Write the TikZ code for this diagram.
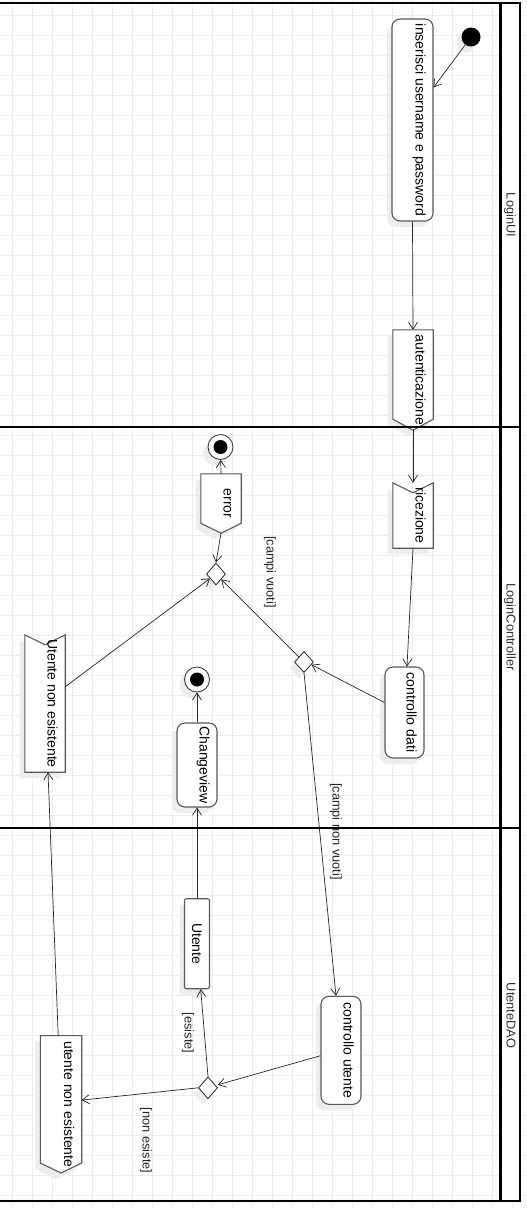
\documentclass[tikz,border=0pt]{standalone}
\usepackage{fontspec}
\setmainfont{Liberation Sans}
\usetikzlibrary{shapes.geometric,arrows.meta,calc,shadows}
\pgfdeclarelayer{gridlayer}
\pgfdeclarelayer{shapelayer}
\pgfsetlayers{gridlayer,shapelayer,main}
\newcommand\mynfont{\fontsize{14}{16}\selectfont}
\newcommand\mygfont{\fontsize{12.8}{15}\selectfont}
\newcommand\rtext[2][6pt]{\rotatebox{-90}{\raisebox{#1}[10pt][3pt]{#2}}}
\newcommand\ltext[1]{\rotatebox{-90}{\raisebox{0pt}[9pt][3pt]{#1}}}
\tikzset{
  gridline/.style={draw=black!7, line width=0.9pt},
  lane/.style={draw=black, line width=2.3pt},
  shd/.style={drop shadow={shadow xshift=-5pt,shadow yshift=-6pt,fill=black!7,opacity=1}},
  actbox/.style={draw=black!65, line width=1.1pt, fill=white, rounded corners=8pt, inner sep=0pt, shd, font=\mynfont},
  utbox/.style={draw=black!65, line width=1.1pt, fill=white, rounded corners=2pt, inner sep=0pt, shd, font=\mynfont},
  txt/.style={inner sep=0pt, font=\mynfont},
  sigshape/.style={draw=black!65, line width=1.1pt, fill=white, shd},
  flow/.style={draw=black!85, line width=0.7pt, -{Straight Barb[length=7pt,width=9pt]}},
  guard/.style={inner sep=0pt, font=\mygfont, text=black!85},
  lanelabel/.style={inner sep=0pt, font=\mygfont, text=black!80},
  decnode/.style={diamond, draw=black!85, line width=0.8pt, fill=white, minimum width=19pt, minimum height=21pt, inner sep=0pt, shd},
  initnode/.style={circle, fill=black, minimum size=19pt, inner sep=0pt, shd},
  finalnode/.style={circle, draw=black!75, line width=0.9pt, fill=white, minimum size=25pt, inner sep=0pt, shd,
    path picture={\fill[black] (path picture bounding box.center) circle[radius=7pt];}}
}
\begin{document}
\begin{tikzpicture}[x=1pt,y=-1pt]
\useasboundingbox (0,0) rectangle (527,1208);
\begin{pgfonlayer}{gridlayer}
  \fill[white] (0,0) rectangle (527,1208);
  \foreach \k in {0,...,25} \draw[gridline] (12.5+20*\k,0) -- (12.5+20*\k,1208);
  \foreach \k in {0,...,59} \draw[gridline] (0,15+20*\k) -- (527,15+20*\k);
  \fill[white] (500.5,3) rectangle (520.3,1201.3);
\end{pgfonlayer}

% nodes
\node[initnode] (init) at (471,37) {};
\node[actbox, minimum width=41pt, minimum height=202pt] (ins) at (412.5,120) {\rtext[6.5pt]{inserisci username e password}};
\node[txt, minimum width=40pt, minimum height=100pt] (aut) at (413,380) {\rtext{autenticazione}};
\node[txt, minimum width=40pt, minimum height=65pt] (ric) at (413,515.5) {\rtext{ricezione}};
\node[actbox, minimum width=39pt, minimum height=91pt] (cd) at (404.5,712.5) {\rtext[5.5pt]{controllo dati}};
\node[decnode] (dm1) at (304,662) {};
\node[decnode, minimum height=22pt] (dm2) at (216,574) {};
\node[txt, minimum width=40pt, minimum height=59pt] (err) at (221,503.5) {\rtext{error}};
\node[finalnode] (fin1) at (220.5,447) {};
\node[txt, minimum width=40pt, minimum height=137pt] (une) at (45,703.5) {\rtext{Utente non esistente}};
\node[finalnode] (fin2) at (197,679.5) {};
\node[actbox, minimum width=40pt, minimum height=84pt] (cv) at (197,765) {\rtext{Changeview}};
\node[utbox, minimum width=25pt, minimum height=90pt] (ut) at (197,943.7) {\rtext[-1.5pt]{Utente}};
\node[actbox, minimum width=40pt, minimum height=108pt] (cu) at (341,1050.3) {\rtext{controllo utente}};
\node[decnode, minimum height=22pt] (dm3) at (208,1087.8) {};
\node[txt, minimum width=41pt, minimum height=137pt] (une2) at (61,1104.3) {\rtext[6.5pt]{utente non esistente}};

% signal outlines
\begin{pgfonlayer}{shapelayer}
  \path[sigshape] (aut.north west) -- (aut.north east) -- ($(aut.south east)+(0,-11)$) -- (aut.south) -- ($(aut.south west)+(0,-11)$) -- cycle;
  \path[sigshape] (err.north west) -- (err.north east) -- ($(err.south east)+(0,-10)$) -- (err.south) -- ($(err.south west)+(0,-10)$) -- cycle;
  \path[sigshape] (une2.north west) -- (une2.north east) -- ($(une2.south east)+(0,-10)$) -- (une2.south) -- ($(une2.south west)+(0,-10)$) -- cycle;
  \path[sigshape] (ric.north west) -- ($(ric.north)+(0,10)$) -- (ric.north east) -- (ric.south east) -- (ric.south west) -- cycle;
  \path[sigshape] (une.north west) -- ($(une.north)+(0,10)$) -- (une.north east) -- (une.south east) -- (une.south west) -- cycle;
\end{pgfonlayer}

% guards
\node[guard] (g1) at (270,572) {\rotatebox{-90}{[campi vuoti]}};
\node[guard] (g2) at (336,831.5) {\rotatebox{-90}{[campi non vuoti]}};
\node[guard] (g3) at (188,1033) {\rotatebox{-90}{[esiste]}};
\node[guard] (g4) at (146,1140.7) {\rotatebox{-90}{[non esiste]}};

% lane labels
\node[lanelabel] (l1) at (509.7,215) {\ltext{LoginUI}};
\node[lanelabel] (l2) at (509.7,627) {\ltext{LoginController}};
\node[lanelabel] (l3) at (509.7,1015.5) {\ltext{UtenteDAO}};

% connectors
\draw[flow] (init) -- ($(ins.north east)+(0,69)$);
\draw[flow] (ins.south) -- (aut.north);
\draw[flow] (aut.south) -- (ric.north);
\draw[flow] (ric.south) -- ($(cd.north)+(2.5,0)$);
\draw[flow] ($(cd.west)+(0,-10)$) -- (dm1.-20);
\draw[flow] (dm1) -- (dm2);
\draw[flow] ($(une.north east)+(0,52)$) -- (dm2);
\draw[flow] (err.south) -- (dm2.north);
\draw[flow] (err.north) -- (fin1);
\draw[flow] (dm1.south) -- ($(cu.north)+(-5,0)$);
\draw[flow] ($(cu.west)+(0,5.4)$) -- ($(dm3.east)+(0,-3)$);
\draw[flow] (dm3.west) -- ($(une2.north east)+(0,64.5)$);
\draw[flow] (dm3.north) -- ($(ut.south)+(3.7,0)$);
\draw[flow] (ut.north) -- (cv.south);
\draw[flow] (cv.north) -- (fin2);
\draw[flow] ($(une2.north)+(-2.8,0)$) -- ($(une.south)+(3,0)$);

% pool frame
\draw[lane] (0,3) -- (520.3,3) -- (520.3,1201.3) -- (0,1201.3);
\draw[lane] (500.5,3) -- (500.5,1201.3);
\draw[lane] (0,427.2) -- (520.3,427.2);
\draw[lane] (0,827.7) -- (520.3,827.7);
\end{tikzpicture}
\end{document}
